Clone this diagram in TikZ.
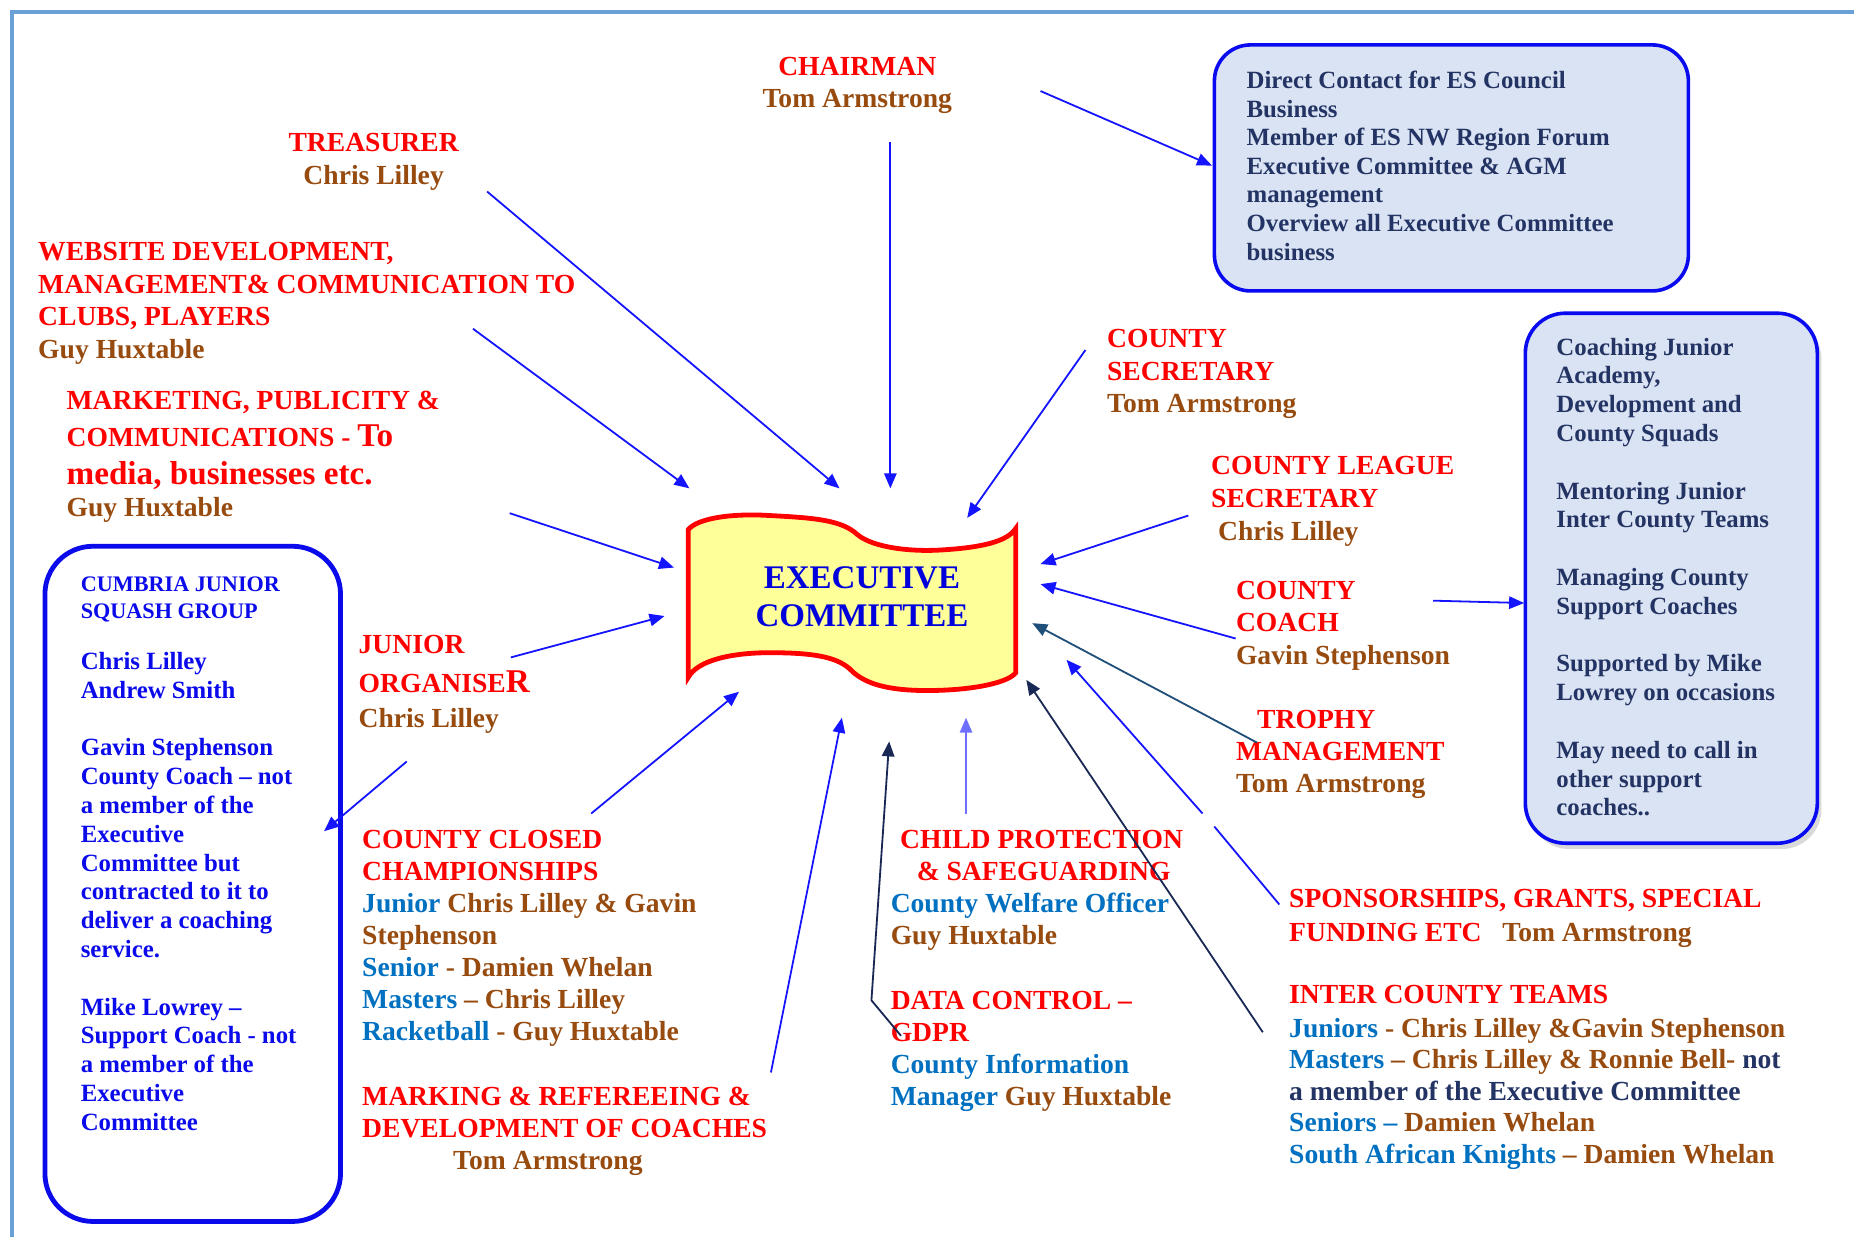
\documentclass[tikz,border=0pt]{standalone}
\usepackage{fontspec}
\setmainfont{Liberation Serif}
\usetikzlibrary{arrows.meta}
\definecolor{tred}{RGB}{255,0,0}
\definecolor{tbrn}{RGB}{151,75,15}
\definecolor{tblu}{RGB}{0,112,192}
\definecolor{tnav}{RGB}{35,52,100}
\definecolor{lblu}{RGB}{10,10,235}
\definecolor{boxfill}{RGB}{218,227,243}
\definecolor{boxline}{RGB}{10,10,240}
\definecolor{exfill}{RGB}{255,255,153}
\definecolor{extxt}{RGB}{0,0,220}
\definecolor{arrblue}{RGB}{20,20,255}
\definecolor{arrnav}{RGB}{25,40,85}
\definecolor{arrslate}{RGB}{31,78,121}
\definecolor{arrlight}{RGB}{110,110,255}
\definecolor{frame}{RGB}{105,160,215}
\newcommand{\hBrn}[1]{\textcolor{tbrn}{#1}}
\newcommand{\hBlu}[1]{\textcolor{tblu}{#1}}
\newcommand{\hNav}[1]{\textcolor{tnav}{#1}}
\tikzset{
  txt/.style={inner sep=0pt, anchor=base west, align=left, text=tred,
    font=\bfseries\fontsize{13.8}{16.3}\selectfont},
  txtc/.style={txt, anchor=base, align=center},
  boxtxt/.style={inner sep=0pt, anchor=base west, align=left, text=tnav,
    font=\bfseries\fontsize{12.4}{14.4}\selectfont},
  infobox/.style={draw=boxline, fill=boxfill, line width=1.8pt, rounded corners=18pt},
  arr/.style={draw=arrblue, line width=0.9pt, -{Triangle[length=7.5pt,width=6.2pt]}},
}
\begin{document}
\begin{tikzpicture}[x=0.5912pt,y=-0.5912pt]
\useasboundingbox (0,0) rectangle (1568,1046);
\fill[white] (0,0) rectangle (1568,1046);
% frame
\draw[frame, line width=1.8pt] (10,1046) -- (10,10) -- (1568,10);

% boxes
\node[infobox, minimum width=237pt, minimum height=123pt] (dbox) at (1227.5,142) {};
\node[fill=black, opacity=0.15, rounded corners=20pt, minimum width=146pt, minimum height=265pt] at (1417,494) {};
\node[infobox, rounded corners=20pt, minimum width=146pt, minimum height=265pt] (rbox) at (1413.5,489) {};
\node[draw=lblu, line width=2.4pt, rounded corners=24pt, minimum width=147.8pt, minimum height=337.6pt] (lbox) at (163,747.5) {};
\draw[lblu, line width=1.4pt] (289,506) -- (289,907);

% executive committee banner
\draw[tred, line width=2.4pt, fill=exfill]
  (582,448) .. controls (590,438) and (620,434) .. (651,436)
  .. controls (690,438) and (712,440) .. (725,452)
  .. controls (738,463) and (770,467) .. (798,465)
  .. controls (830,463) and (852,458) .. (859,447)
  -- (859,569)
  .. controls (852,578) and (820,584) .. (784,584)
  .. controls (750,584) and (732,578) .. (721,568)
  .. controls (710,556) and (690,552) .. (651,552)
  .. controls (620,552) and (590,558) .. (582,573) -- cycle;
\node[inner sep=0pt, align=center, text=extxt, font=\bfseries\fontsize{16.5}{18.9}\selectfont] (exec) at (729,505) {EXECUTIVE\\COMMITTEE};

% texts (anchor = baseline of last line)
\node[txtc] (chair) at (725,91) {CHAIRMAN\\\hBrn{Tom Armstrong}};
\node[txtc] (treas) at (316,156) {TREASURER\\\hBrn{Chris Lilley}};
\node[txt] (web) at (32,303) {WEBSITE DEVELOPMENT,\\MANAGEMENT\& COMMUNICATION TO\\CLUBS, PLAYERS\\\hBrn{Guy Huxtable}};
\node[txt] (mkt) at (56,437) {MARKETING, PUBLICITY \&\\[2.6pt]COMMUNICATIONS - {\fontsize{16.6}{16.3}\selectfont To}\\[2.6pt]{\fontsize{16.6}{16.3}\selectfont media, businesses etc.}\\[-0.3pt]\hBrn{Guy Huxtable}};
\node[txt] (jorg) at (303,615) {JUNIOR\\[3.2pt]ORGANISE{\fontsize{16.6}{16.3}\selectfont R}\\[0.8pt]\hBrn{Chris Lilley}};
\node[txt, font=\bfseries\fontsize{13.8}{16}\selectfont] (closed) at (306,880) {COUNTY CLOSED\\CHAMPIONSHIPS\\\hBlu{Junior} \hBrn{Chris Lilley \& Gavin}\\\hBrn{Stephenson}\\\hBlu{Senior} \hBrn{- Damien Whelan}\\\hBlu{Masters} \hBrn{– Chris Lilley}\\\hBlu{Racketball} \hBrn{- Guy Huxtable}};
\node[txt, font=\bfseries\fontsize{13.8}{16.1}\selectfont] (mark) at (306,989) {MARKING \& REFEREEING \&\\DEVELOPMENT OF COACHES\\\hspace*{45.5pt}\hBrn{Tom Armstrong}};
\node[txt, font=\bfseries\fontsize{13.8}{16}\selectfont] (child) at (753,799) {\hspace*{4.7pt}CHILD PROTECTION\\\hspace*{13pt}\& SAFEGUARDING\\\hBlu{County Welfare Officer}\\\hBrn{Guy Huxtable}};
\node[txt, font=\bfseries\fontsize{13.8}{16}\selectfont] (data) at (753,935) {DATA CONTROL –\\GDPR\\\hBlu{County Information}\\\hBlu{Manager} \hBrn{Guy Huxtable}};
\node[txt, font=\bfseries\fontsize{13.8}{17}\selectfont] (spons) at (1090,796) {SPONSORSHIPS, GRANTS, SPECIAL\\FUNDING ETC \ \ \hBrn{Tom Armstrong}};
\node[txt, font=\bfseries\fontsize{13.8}{15.8}\selectfont] (inter) at (1090,984) {INTER COUNTY TEAMS\\[1.2pt]\hBlu{Juniors} \hBrn{- Chris Lilley \&Gavin Stephenson}\\\hBlu{Masters} \hBrn{– Chris Lilley \& Ronnie Bell-} \hNav{not}\\\hNav{a member of the Executive Committee}\\\hBlu{Seniors –} \hBrn{Damien Whelan}\\\hBlu{South African Knights} \hBrn{– Damien Whelan}};
\node[txt] (csec) at (936,349) {COUNTY\\SECRETARY\\\hBrn{Tom Armstrong}};
\node[txt, font=\bfseries\fontsize{13.8}{16.5}\selectfont] (cleague) at (1024,457) {COUNTY LEAGUE\\SECRETARY\\\hspace*{3.5pt}\hBrn{Chris Lilley}};
\node[txt] (coach) at (1045,562) {COUNTY\\COACH\\\hBrn{Gavin Stephenson}};
\node[txt, font=\bfseries\fontsize{13.8}{16}\selectfont] (trophy) at (1045,670) {\hspace*{10.6pt}TROPHY\\MANAGEMENT\\\hBrn{Tom Armstrong}};

\node[boxtxt, font=\bfseries\fontsize{12.4}{14.3}\selectfont] (dtxt) at (1054,220) {Direct Contact for ES Council\\Business\\Member of ES NW Region Forum\\Executive Committee \& AGM\\management\\Overview all Executive Committee\\business};
\node[boxtxt] (rtxt) at (1316,690) {Coaching Junior\\Academy,\\Development and\\County Squads\\[14.4pt]Mentoring Junior\\Inter County Teams\\[14.4pt]Managing County\\Support Coaches\\[14.4pt]Supported by Mike\\Lowrey on occasions\\[14.4pt]May need to call in\\other support\\coaches..};
\node[boxtxt, text=lblu, font=\bfseries\fontsize{11.1}{13.6}\selectfont] (ltitle) at (68,523) {CUMBRIA JUNIOR\\SQUASH GROUP};
\node[boxtxt, text=lblu] (ltxt) at (68,956) {Chris Lilley\\Andrew Smith\\[14.4pt]Gavin Stephenson\\County Coach – not\\a member of the\\Executive\\Committee but\\contracted to it to\\deliver a coaching\\service.\\[14.4pt]Mike Lowrey –\\Support Coach - not\\a member of the\\Executive\\Committee};

% connector ends
\coordinate (chS) at (753,120);   \coordinate (chE) at (753,413);
\coordinate (chbS) at (880,77);   \coordinate (chbE) at (1025,140);
\coordinate (trS) at (412,162);   \coordinate (trE) at (710,413);
\coordinate (wbS) at (400,278);   \coordinate (wbE) at (583,413);
\coordinate (mkS) at (431,434);   \coordinate (mkE) at (570,480);
\coordinate (joS) at (432,556);   \coordinate (joE) at (562,521);
\coordinate (jlS) at (344,644);   \coordinate (jlE) at (274,703);
\coordinate (ccS) at (500,688);   \coordinate (ccE) at (625,585);
\coordinate (mrS) at (652,907);   \coordinate (mrE) at (712,607);
\coordinate (dcS) at (762,876);   \coordinate (dcM) at (737,846);  \coordinate (dcE) at (752,627);
\coordinate (cpS) at (817,688);   \coordinate (cpE) at (817,607);
\coordinate (icS) at (1068,873);  \coordinate (icE) at (868,575);
\coordinate (spS) at (1082,765);  \coordinate (spM) at (1027,699); \coordinate (spN) at (1017,688); \coordinate (spE) at (902,558);
\coordinate (tpS) at (1063,628);  \coordinate (tpE) at (873,527);
\coordinate (coS) at (1045,540);  \coordinate (coE) at (880,494);
\coordinate (clS) at (1005,436);  \coordinate (clE) at (880,477);
\coordinate (csS) at (918,296);   \coordinate (csE) at (818,438);
\coordinate (crS) at (1212,508);  \coordinate (crE) at (1289,510);

\draw[arr] (chS) -- (chE);
\draw[arr] (chbS) -- (chbE);
\draw[arr] (trS) -- (trE);
\draw[arr] (wbS) -- (wbE);
\draw[arr] (mkS) -- (mkE);
\draw[arr] (joS) -- (joE);
\draw[arr] (jlS) -- (jlE);
\draw[arr] (ccS) -- (ccE);
\draw[arr] (mrS) -- (mrE);
\draw[arr, draw=arrnav] (dcS) -- (dcM) -- (dcE);
\draw[arr, draw=arrlight] (cpS) -- (cpE);
\draw[arr, draw=arrnav] (icS) -- (icE);
\draw[arrblue, line width=0.9pt] (spS) -- (spM);
\draw[arr] (spN) -- (spE);
\draw[arr, draw=arrslate] (tpS) -- (tpE);
\draw[arr] (coS) -- (coE);
\draw[arr] (clS) -- (clE);
\draw[arr] (csS) -- (csE);
\draw[arr] (crS) -- (crE);
\end{tikzpicture}
\end{document}
